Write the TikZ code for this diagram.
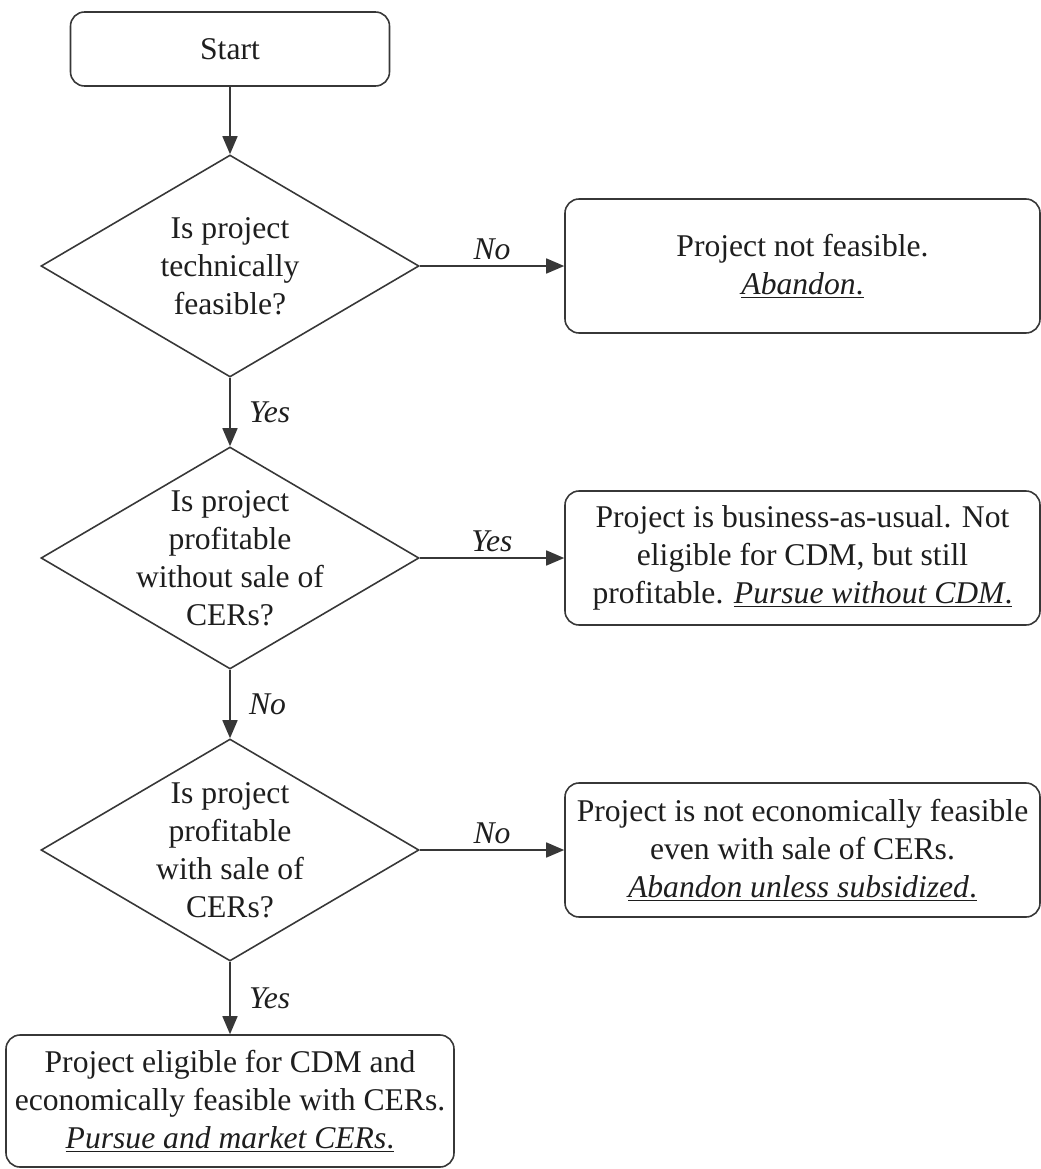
\documentclass[tikz,border=0pt]{standalone}
\usepackage{fontspec}
\setmainfont{Liberation Serif}
\usetikzlibrary{arrows.meta, positioning, shapes.geometric}
\definecolor{ink}{RGB}{30, 30, 30}
\definecolor{linegray}{RGB}{55, 55, 55}

\begin{document}
\begin{tikzpicture}[
    >={Triangle[length=0.36cm, width=0.3cm]},
    every node/.style={font=\fontsize{18}{21.6}\selectfont, text=ink},
    outcome/.style={rectangle, rounded corners=8pt, draw=linegray, line width=0.9pt, minimum width=#1, minimum height=2.68cm, align=center, inner sep=2pt},
    decision/.style={diamond, aspect=1.7, draw=linegray, line width=0.9pt, minimum width=7.56cm, minimum height=4.44cm, inner sep=-0.25cm, align=center},
    flow/.style={->, line width=0.9pt, draw=linegray},
    answer/.style={font=\fontsize{18}{21.6}\selectfont\itshape}
  ]
  \useasboundingbox (0,0) rectangle (20.82,-23.38);

  % Questions
  \node[outcome=6.38cm, minimum height=1.48cm] (start) at (4.6, -0.98) {Start};
  \node[decision] (technical) at (4.6, -5.32) {Is project\\technically\\feasible?};
  \node[decision] (profit) at (4.6, -11.16) {Is project\\profitable\\without sale of\\CERs?};
  \node[decision] (withcer) at (4.6, -17.0) {Is project\\profitable\\with sale of\\CERs?};

  % Outcomes
  \node[outcome=9.5cm] (notfeasible) at (16.05, -5.32) {Project not feasible.\\\underline{\textit{Abandon}.}};
  \node[outcome=9.5cm] (bau) at (16.05, -11.16) {Project is business-as-usual. Not\\eligible for CDM, but still\\profitable. \underline{\textit{Pursue without CDM}.}};
  \node[outcome=9.5cm] (uneconomic) at (16.05, -17.0) {Project is not economically feasible\\even with sale of CERs.\\\underline{\textit{Abandon unless subsidized}.}};
  \node[outcome=8.96cm, minimum height=2.64cm] (eligible) at (4.6, -22.02) {Project eligible for CDM and\\economically feasible with CERs.\\\underline{\textit{Pursue and market CERs}.}};

  % Links
  \draw[flow] (start) -- (technical);
  \draw[flow] (technical) -- (notfeasible) node[midway, above, answer] {No};
  \draw[flow] (technical) -- (profit) node[midway, right=0.25cm, answer] {Yes};
  \draw[flow] (profit) -- (bau) node[midway, above, answer] {Yes};
  \draw[flow] (profit) -- (withcer) node[midway, right=0.25cm, answer] {No};
  \draw[flow] (withcer) -- (uneconomic) node[midway, above, answer] {No};
  \draw[flow] (withcer) -- (eligible) node[midway, right=0.25cm, answer] {Yes};

\end{tikzpicture}
\end{document}
